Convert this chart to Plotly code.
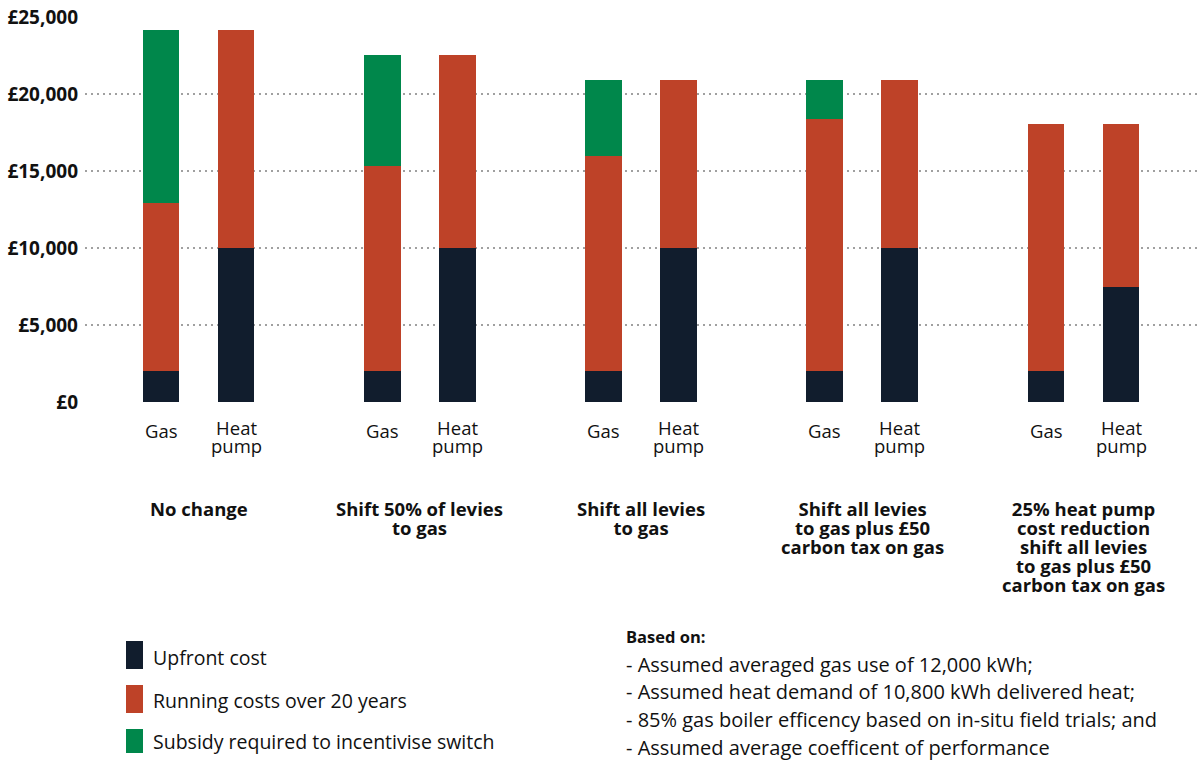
import plotly.graph_objects as go

# ---- data ----
groups = [
    "No change",
    "Shift 50% of levies<br>to gas",
    "Shift all levies<br>to gas",
    "Shift all levies<br>to gas plus £50<br>carbon tax on gas",
    "25% heat pump<br>cost reduction<br>shift all levies<br>to gas plus £50<br>carbon tax on gas",
]
bar_labels = ["Gas", "Heat<br>pump"]
gas_upfront = [2000, 2000, 2000, 2000, 2000]
gas_running = [10900, 13300, 13950, 16400, 16050]
gas_subsidy = [11250, 7250, 4950, 2500, 0]
hp_upfront = [10000, 10000, 10000, 10000, 7500]
hp_running = [14150, 12550, 10900, 10900, 10550]
hp_subsidy = [0, 0, 0, 0, 0]
series_names = ["Upfront cost", "Running costs over 20 years", "Subsidy required to incentivise switch"]
y_ticks = [0, 5000, 10000, 15000, 20000, 25000]
notes_title = "Based on:"
notes = [
    "- Assumed averaged gas use of 12,000 kWh;",
    "- Assumed heat demand of 10,800 kWh delivered heat;",
    "- 85% gas boiler efficency based on in-situ field trials; and",
    "- Assumed average coefficent of performance",
]

# ---- style ----
NAVY = "#111d2d"
RED = "#be4228"
GREEN = "#00874b"
colors = [NAVY, RED, GREEN]
FONT = "Open Sans"
TXT = "#111111"
W, H = 1197, 760
L, R, T, B = 85, 0, 17, 358
PERIOD = 2.95


def px(x):
    return (x - L) / (W - L - R)


def py(y):
    return (H - B - y) / (H - B - T)


xpos = []
for g in range(len(groups)):
    xpos += [g * PERIOD, g * PERIOD + 1]


def interleave(a, b):
    out = []
    for u, v in zip(a, b):
        out += [u, v]
    return out


series = [
    interleave(gas_upfront, hp_upfront),
    interleave(gas_running, hp_running),
    interleave(gas_subsidy, hp_subsidy),
]

fig = go.Figure()
for name, vals, col in zip(series_names, series, colors):
    fig.add_trace(go.Bar(x=xpos, y=vals, name=name, marker=dict(color=col, line=dict(width=0)),
                         width=0.49, showlegend=False))

ann = []


def block_ann(x, y_top, text, size, spacing, xref="x", xanchor="center", bold=False, yanchor="top"):
    # tight leading: base font size sets the line spacing (1.3 x base), span sets glyph size
    base = spacing / 1.3
    lines = text.split("<br>")
    styled = "<br>".join('<span style="font-size:%.1fpx">%s</span>' % (size, ln) for ln in lines)
    return dict(x=x, y=y_top, xref=xref, yref="paper", text=styled, showarrow=False,
                font=dict(family=FONT, size=base, color=TXT, weight="bold" if bold else "normal"),
                xanchor=xanchor, yanchor=yanchor, align="center")


def line_ann(x, y, text, size, xref="x", xanchor="center", bold=False):
    return dict(x=x, y=y, xref=xref, yref="paper", text=text, showarrow=False,
                font=dict(family=FONT, size=size, color=TXT, weight="bold" if bold else "normal"),
                xanchor=xanchor, yanchor="middle")


# bar labels
for g in range(len(groups)):
    ann.append(line_ann(g * PERIOD, py(430), bar_labels[0], 18.5))
    ann.append(block_ann(g * PERIOD + 1, py(437), bar_labels[1], 18.5, 18, yanchor="middle"))
    ann.append(block_ann(g * PERIOD + 0.5, py(494), groups[g], 18.5, 19, bold=True))

# legend
shapes = []
leg_y = [(641, 669), (685, 713), (729, 753)]
leg_txt_y = [657, 700, 741]
for name, col, (y0, y1), ty in zip(series_names, colors, leg_y, leg_txt_y):
    shapes.append(dict(type="rect", xref="paper", yref="paper", x0=px(126), x1=px(143),
                       y0=py(y1), y1=py(y0), fillcolor=col, line=dict(width=0)))
    ann.append(line_ann(px(151), py(ty), name, 19.5, xref="paper", xanchor="left"))

# notes
ann.append(line_ann(px(624), py(636), notes_title, 16.5, xref="paper", xanchor="left", bold=True))
for i, line in enumerate(notes):
    ann.append(line_ann(px(624), py(664 + 27.7 * i), line, 20, xref="paper", xanchor="left"))

fig.update_layout(
    width=W, height=H,
    margin=dict(l=L, r=R, t=T, b=B),
    paper_bgcolor="white", plot_bgcolor="white",
    barmode="stack",
    showlegend=False,
    annotations=ann,
    shapes=shapes,
    xaxis=dict(range=[-(161 - L) / 75, (W - R - 161) / 75], showticklabels=False, showgrid=False,
               zeroline=False, showline=False, ticks=""),
    yaxis=dict(range=[0, 25000], tickvals=y_ticks,
               ticktext=["£{:,}".format(v) for v in y_ticks],
               tickfont=dict(family=FONT, size=19, color=TXT, weight="bold"),
               showgrid=True, gridcolor="#a0a0a0", gridwidth=2, griddash="2px,4px",
               zeroline=False, showline=False, ticks="", ticklabelstandoff=6),
)

fig.write_html("out.html")
